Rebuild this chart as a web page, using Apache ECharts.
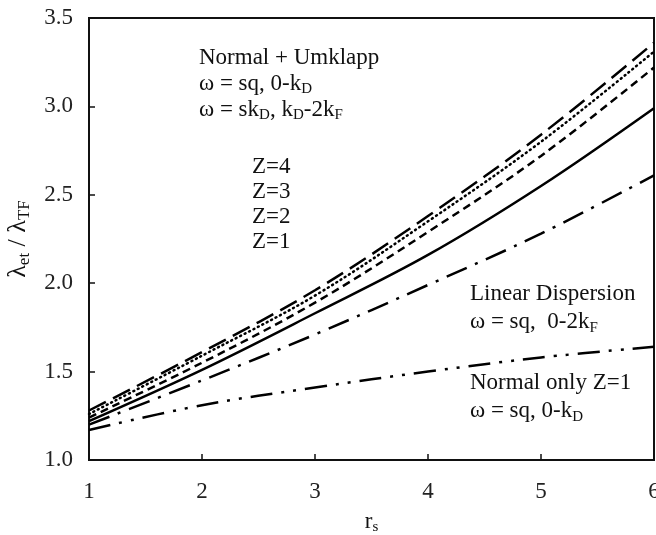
<!DOCTYPE html>
<html>
<head>
<meta charset="utf-8">
<script src="https://cdn.jsdelivr.net/npm/echarts@6/dist/echarts.min.js"></script>
<style>html,body{margin:0;padding:0;background:#fff;}#c{width:656px;height:535px;}</style>
</head>
<body>
<div id="c"></div>
<script>
const rs = [1, 2, 3, 4, 5, 6];
const z4 = [1.28, 1.61, 1.96, 2.38, 2.84, 3.36];
const z3 = [1.26, 1.59, 1.93, 2.35, 2.80, 3.31];
const z2 = [1.24, 1.55, 1.89, 2.29, 2.72, 3.22];
const z1 = [1.22, 1.51, 1.83, 2.16, 2.55, 2.99];
const linearDisp = [1.20, 1.45, 1.71, 1.99, 2.28, 2.61];
const normalOnly = [1.17, 1.31, 1.41, 1.50, 1.58, 1.64];
const yTicks = [1.0, 1.5, 2.0, 2.5, 3.0, 3.5];

const FONT = 'Liberation Serif';
const chart = echarts.init(document.getElementById('c'));
const pts = arr => rs.map((x, i) => [x, arr[i]]);
function line(name, data, type, cap) {
  return {
    name, type: 'line', data: pts(data), smooth: 0.35, showSymbol: false, symbol: 'none',
    lineStyle: { color: '#000', width: 2.5, type: type, cap: cap || 'butt' },
    silent: true, animation: false
  };
}
function mkRich(fs, ss, lh) {
  return {
    n: { fontFamily: FONT, fontSize: fs, color: '#111', lineHeight: lh },
    s: { fontFamily: FONT, fontSize: ss, color: '#111', lineHeight: ss, verticalAlign: 'bottom' }
  };
}
function txt(left, top, text, lh) {
  return { type: 'text', left, top, silent: true,
    style: { text, rich: mkRich(23, 15, lh), fontFamily: FONT, fontSize: 23, fill: '#111' } };
}
chart.setOption({
  animation: false,
  grid: { left: 89, right: 2, top: 18, bottom: 75, show: true, borderColor: '#111', borderWidth: 2,
    outerBoundsMode: 'none', containLabel: false },
  xAxis: {
    type: 'value', min: 1, max: 6, interval: 1,
    name: '{n|r}{s|s}', nameLocation: 'middle', nameGap: 49,
    nameTextStyle: { rich: mkRich(23, 15, 26) },
    axisLine: { lineStyle: { color: '#111', width: 2 } },
    axisTick: { inside: true, length: 6, lineStyle: { color: '#111', width: 1.5 } },
    axisLabel: { fontFamily: FONT, fontSize: 23, color: '#222', margin: 20, hideOverlap: false },
    splitLine: { show: false }
  },
  yAxis: {
    type: 'value', min: 1.0, max: 3.5, interval: 0.5,
    name: '{n|λ}{s|et}{n| / λ}{s|TF}', nameLocation: 'middle', nameGap: 51, nameRotate: 90,
    nameTextStyle: { rich: mkRich(26, 17, 30) },
    axisLine: { lineStyle: { color: '#111', width: 2 } },
    axisTick: { inside: true, length: 6, lineStyle: { color: '#111', width: 1.5 } },
    axisLabel: { fontFamily: FONT, fontSize: 23, color: '#222', margin: 16,
      formatter: v => v.toFixed(1) },
    splitLine: { show: false }
  },
  series: [
    line('Z=4', z4, [19, 8]),
    line('Z=3', z3, [1, 4], 'round'),
    line('Z=2', z2, [8, 5]),
    line('Z=1', z1, 'solid'),
    line('Linear Dispersion', linearDisp, [22, 9, 3, 9]),
    line('Normal only Z=1', normalOnly, [22, 9, 3, 9, 3, 9])
  ],
  graphic: [
    txt(199, 46, '{n|Normal + Umklapp}\n{n|ω = sq, 0-k}{s|D}\n{n|ω = sk}{s|D}{n|, k}{s|D}{n|-2k}{s|F}', 26),
    txt(252, 155, '{n|Z=4}\n{n|Z=3}\n{n|Z=2}\n{n|Z=1}', 25),
    txt(470, 282, '{n|Linear Dispersion}\n{n|ω = sq,  0-2k}{s|F}', 28),
    txt(470, 371, '{n|Normal only Z=1}\n{n|ω = sq, 0-k}{s|D}', 28)
  ]
});
</script>
</body>
</html>
